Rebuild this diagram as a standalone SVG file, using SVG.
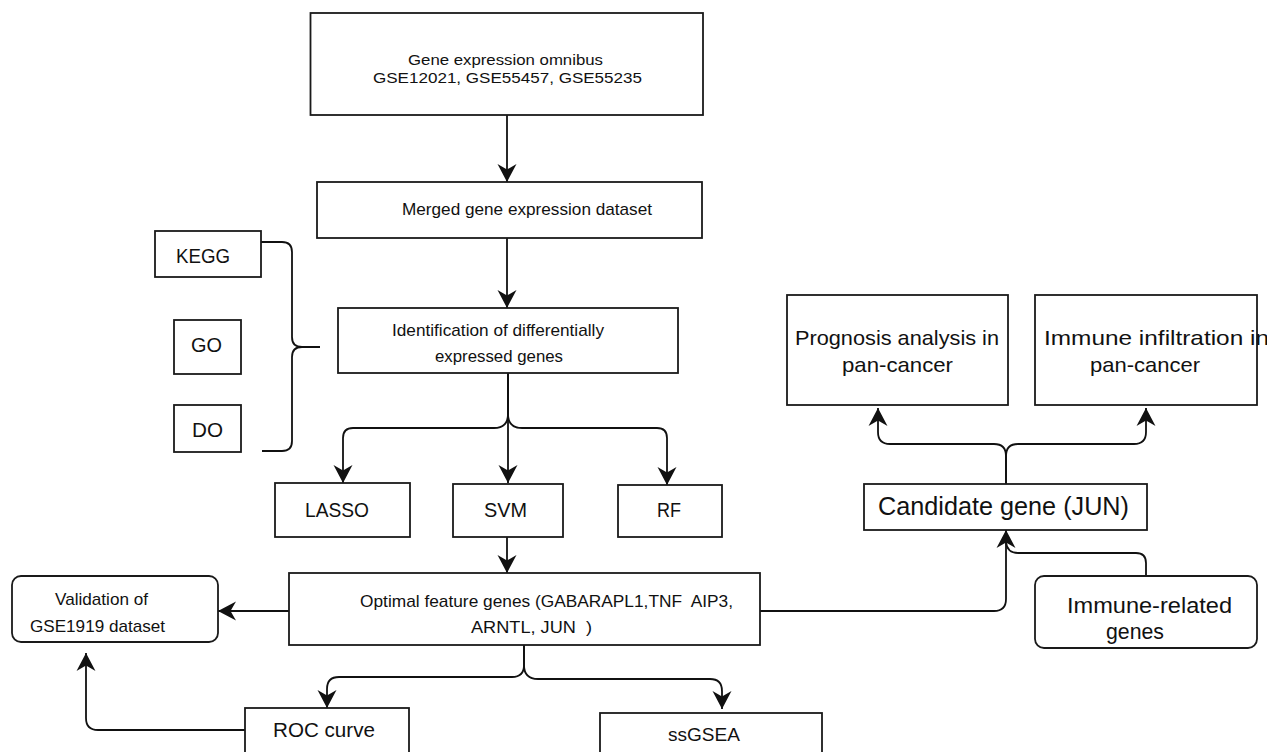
<svg xmlns="http://www.w3.org/2000/svg" width="1267" height="752" viewBox="0 0 1267 752">
<defs>
<marker id="ah" markerUnits="userSpaceOnUse" viewBox="-19 -10 21 20" refX="0" refY="0" markerWidth="21" markerHeight="20" orient="auto">
<path d="M0,0 L-18,-9.5 L-12.5,0 L-18,9.5 Z" fill="#111"/>
</marker>
<style>
rect{fill:#fff;stroke:#1a1a1a;stroke-width:1.8}
text{font-family:"Liberation Sans",Arial,sans-serif;fill:#111;white-space:pre}
.c{fill:none;stroke:#111;stroke-width:1.8}
.a{marker-end:url(#ah)}
</style>
</defs>
<rect width="1267" height="752" style="fill:#fff;stroke:none"/>

<g id="connectors">
<path class="c a" d="M507,115 V182"/>
<path class="c a" d="M507,238 V308"/>
<path class="c a" d="M508,373 V483"/>
<path class="c a" d="M508,373 V414 Q508,428 494,428 H353 Q343,428 343,438 V483"/>
<path class="c a" d="M508,373 V414 Q508,428 522,428 H657 Q667,428 667,438 V485"/>
<path class="c" d="M261,242 H282 Q292,242 292,252 V337 Q292,347 302,347 H320 M302,347 Q292,347 292,357 V441 Q292,451 282,451 H262"/>
<path class="c a" d="M507,537 V573"/>
<path class="c a" d="M289,611 H218"/>
<path class="c a" d="M760,611 H994 Q1006,611 1006,599 V530"/>
<path class="c" d="M1146,576 V563 Q1146,553 1136,553 H1018 Q1007,553 1006,542"/>
<path class="c a" d="M1006,484 V456 Q1006,444 994,444 H890 Q878,444 878,432 V408"/>
<path class="c a" d="M1006,484 V456 Q1006,444 1018,444 H1134 Q1146,444 1146,432 V408"/>
<path class="c a" d="M524,645 V665 Q524,677 512,677 H339 Q327,677 327,689 V708"/>
<path class="c a" d="M524,645 V665 Q524,679 538,679 H710 Q722,679 722,691 V709"/>
<path class="c a" d="M245,730 H98 Q86,730 86,718 V653"/>
</g>

<g id="geo">
<rect x="310.5" y="13" width="392.5" height="102"/>
<text x="408" y="65" font-size="15.5" textLength="195" lengthAdjust="spacingAndGlyphs">Gene expression omnibus</text>
<text x="373" y="83" font-size="15.5" textLength="269" lengthAdjust="spacingAndGlyphs">GSE12021, GSE55457, GSE55235</text>
</g>

<g id="merged">
<rect x="317" y="182" width="385" height="56"/>
<text x="402" y="215" font-size="17" textLength="250" lengthAdjust="spacingAndGlyphs">Merged gene expression dataset</text>
</g>

<g id="kegg">
<rect x="155" y="231" width="106" height="46"/>
<text x="176" y="263" font-size="20" textLength="54" lengthAdjust="spacingAndGlyphs">KEGG</text>
</g>
<g id="go">
<rect x="174" y="320" width="67" height="54"/>
<text x="191" y="352" font-size="20" textLength="31" lengthAdjust="spacingAndGlyphs">GO</text>
</g>
<g id="do">
<rect x="174" y="405" width="67" height="47"/>
<text x="192" y="437" font-size="20" textLength="31" lengthAdjust="spacingAndGlyphs">DO</text>
</g>

<g id="deg">
<rect x="338" y="308" width="340" height="65"/>
<text x="392" y="336" font-size="17" textLength="212" lengthAdjust="spacingAndGlyphs">Identification of differentially</text>
<text x="435" y="362" font-size="17" textLength="128" lengthAdjust="spacingAndGlyphs">expressed genes</text>
</g>

<g id="lasso">
<rect x="275" y="483" width="135" height="54"/>
<text x="305" y="517" font-size="20" textLength="64" lengthAdjust="spacingAndGlyphs">LASSO</text>
</g>
<g id="svm">
<rect x="453" y="484" width="110" height="53"/>
<text x="484" y="517" font-size="20" textLength="43" lengthAdjust="spacingAndGlyphs">SVM</text>
</g>
<g id="rf">
<rect x="618" y="485" width="104" height="52"/>
<text x="657" y="517" font-size="20" textLength="24" lengthAdjust="spacingAndGlyphs">RF</text>
</g>

<g id="optimal">
<rect x="289" y="573" width="471" height="72"/>
<text x="360" y="607" font-size="17" textLength="373" lengthAdjust="spacingAndGlyphs">Optimal feature genes (GABARAPL1,TNF  AIP3,</text>
<text x="471" y="633" font-size="17" textLength="121" lengthAdjust="spacingAndGlyphs">ARNTL, JUN  )</text>
</g>

<g id="validation">
<rect x="12" y="576" width="206" height="66" rx="9"/>
<text x="55" y="605" font-size="17" textLength="93" lengthAdjust="spacingAndGlyphs">Validation of</text>
<text x="30" y="632" font-size="17" textLength="135" lengthAdjust="spacingAndGlyphs">GSE1919 dataset</text>
</g>

<g id="roc">
<rect x="245" y="708" width="164" height="50"/>
<text x="273" y="737" font-size="20.5" textLength="102" lengthAdjust="spacingAndGlyphs">ROC curve</text>
</g>

<g id="ssgsea">
<rect x="600" y="713" width="222" height="45"/>
<text x="668" y="741" font-size="19" textLength="72" lengthAdjust="spacingAndGlyphs">ssGSEA</text>
</g>

<g id="prognosis">
<rect x="787" y="295" width="221" height="110"/>
<text x="795" y="345" font-size="21" textLength="204" lengthAdjust="spacingAndGlyphs">Prognosis analysis in</text>
<text x="842" y="372" font-size="21" textLength="111" lengthAdjust="spacingAndGlyphs">pan-cancer</text>
</g>

<g id="infiltration">
<rect x="1035" y="295" width="222" height="110"/>
<text x="1044" y="345" font-size="21" textLength="225" lengthAdjust="spacingAndGlyphs">Immune infiltration in</text>
<text x="1090" y="372" font-size="21" textLength="110" lengthAdjust="spacingAndGlyphs">pan-cancer</text>
</g>

<g id="candidate">
<rect x="864" y="484" width="283" height="46"/>
<text x="878" y="515" font-size="25" textLength="251" lengthAdjust="spacingAndGlyphs">Candidate gene (JUN)</text>
</g>

<g id="immune-related">
<rect x="1035" y="576" width="222" height="72" rx="9"/>
<text x="1067" y="613" font-size="22" textLength="165" lengthAdjust="spacingAndGlyphs">Immune-related</text>
<text x="1106" y="639" font-size="22" textLength="58" lengthAdjust="spacingAndGlyphs">genes</text>
</g>
</svg>
